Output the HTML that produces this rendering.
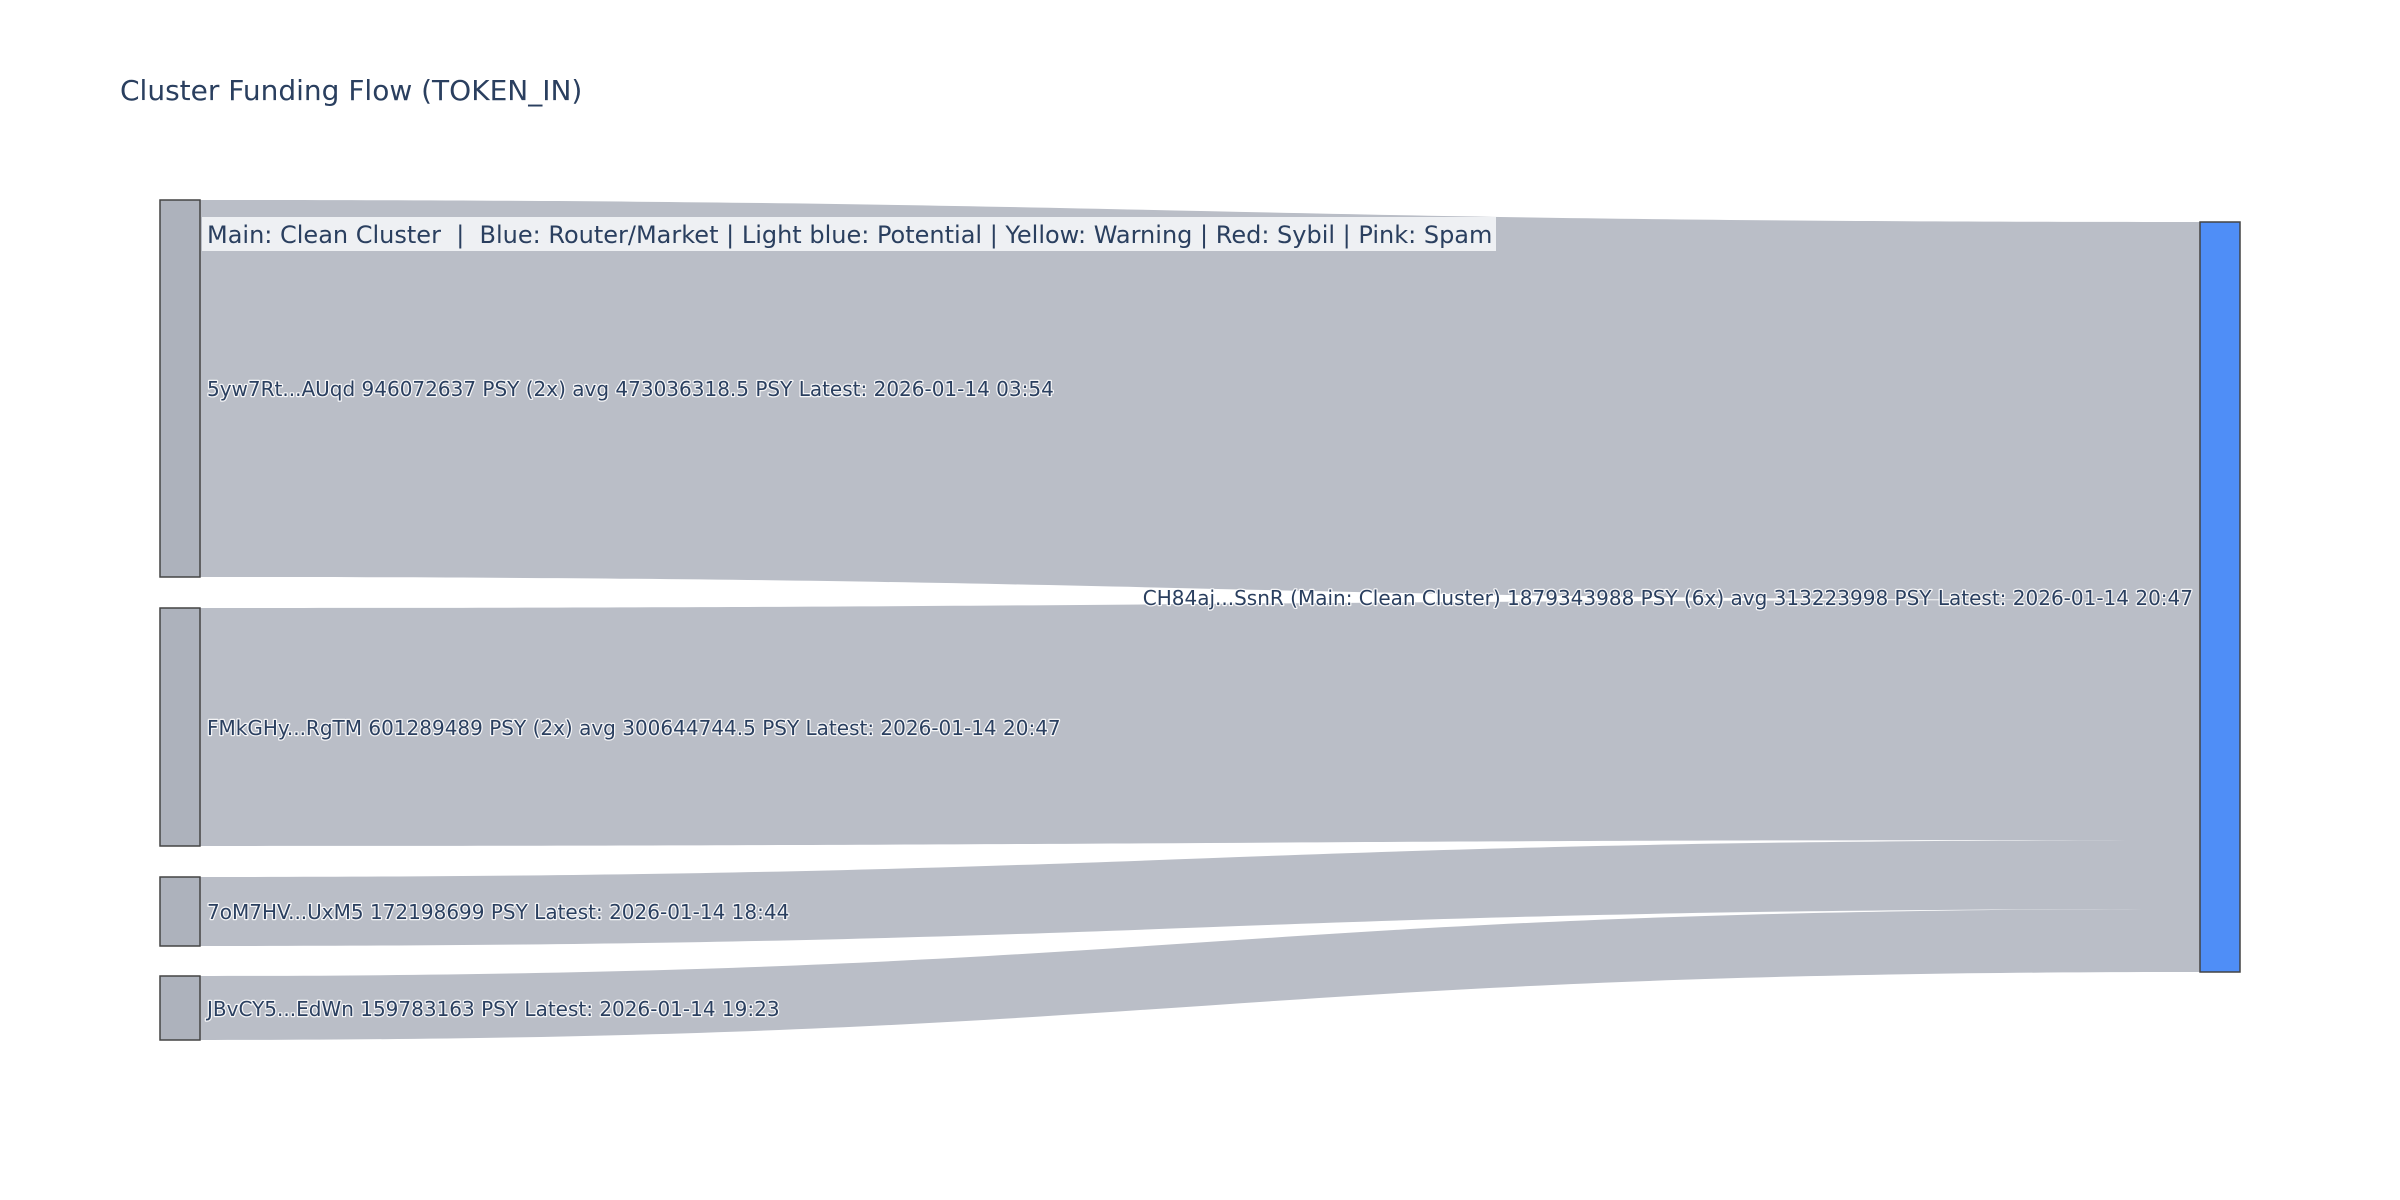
<!DOCTYPE html>
<html><head><meta charset="utf-8"><style>
html,body{margin:0;padding:0;background:#fff;}
svg{display:block;}
text{font-family:"DejaVu Sans","Liberation Sans",sans-serif;fill:#2a3f5f;}
.lbl{font-size:20px;paint-order:stroke;stroke:#fff;stroke-width:2.5px;stroke-opacity:0.85;stroke-linejoin:round;}
</style></head><body>
<svg width="2400" height="1200" viewBox="0 0 2400 1200" xmlns="http://www.w3.org/2000/svg">
<rect width="2400" height="1200" fill="#fff"/>
<text x="120" y="100" style="font-size:28px">Cluster Funding Flow (TOKEN_IN)</text>
<g fill="#babec7">
<path d="M200,200 C1200,200 1200,222 2200,222 L2200,600 C1200,600 1200,577 200,577 Z"/>
<path d="M200,608 C1200,608 1200,600 2200,600 L2200,840 C1200,840 1200,846 200,846 Z"/>
<path d="M200,877 C1200,877 1200,840 2200,840 L2200,909 C1200,909 1200,946 200,946 Z"/>
<path d="M200,976 C1200,976 1200,909 2200,909 L2200,972 C1200,972 1200,1040 200,1040 Z"/>
</g>
<g stroke="#444" stroke-width="1.5">
<rect x="160" y="200" width="40" height="377" fill="#adb2bc"/>
<rect x="160" y="608" width="40" height="238" fill="#adb2bc"/>
<rect x="160" y="877" width="40" height="69" fill="#adb2bc"/>
<rect x="160" y="976" width="40" height="64" fill="#adb2bc"/>
<rect x="2200" y="222" width="40" height="750" fill="#4f8ef7"/>
</g>
<text class="lbl" x="207" y="396">5yw7Rt...AUqd 946072637 PSY (2x) avg 473036318.5 PSY Latest: 2026-01-14 03:54</text>
<text class="lbl" x="207" y="735">FMkGHy...RgTM 601289489 PSY (2x) avg 300644744.5 PSY Latest: 2026-01-14 20:47</text>
<text class="lbl" x="207" y="919">7oM7HV...UxM5 172198699 PSY Latest: 2026-01-14 18:44</text>
<text class="lbl" x="207" y="1016">JBvCY5...EdWn 159783163 PSY Latest: 2026-01-14 19:23</text>
<text class="lbl" x="2193" y="605" text-anchor="end">CH84aj...SsnR (Main: Clean Cluster) 1879343988 PSY (6x) avg 313223998 PSY Latest: 2026-01-14 20:47</text>
<rect x="202" y="217" width="1294" height="34" fill="#f0f2f5" fill-opacity="0.95"/>
<text x="207" y="243" style="font-size:24px;white-space:pre" xml:space="preserve">Main: Clean Cluster  |  Blue: Router/Market | Light blue: Potential | Yellow: Warning | Red: Sybil | Pink: Spam</text>
</svg>
</body></html>
